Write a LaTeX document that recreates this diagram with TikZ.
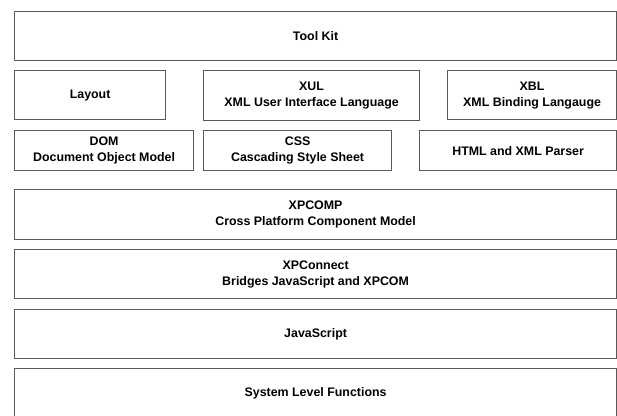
\documentclass[tikz,border=0pt]{standalone}
\usepackage{fontspec}
\setmainfont{Liberation Sans}
\usetikzlibrary{positioning}

\begin{document}
\begin{tikzpicture}[x=1pt, y=-1pt,
  block/.style={draw=black!65, line width=1.2pt, anchor=north west, inner sep=0pt,
    align=center, font=\fontsize{12.4}{16}\selectfont\bfseries}]

  \useasboundingbox (0,0) rectangle (617,415);

  % Top
  \node[block, minimum width=602pt, minimum height=49pt] (toolkit) at (14,11) {Tool Kit};

  % First row
  \node[block, minimum width=151pt, minimum height=49pt] (layout) at (14,70) {Layout};
  \node[block, minimum width=216pt, minimum height=50pt] (xul) at (203,70) {XUL\\XML User Interface Language};
  \node[block, minimum width=169pt, minimum height=49pt] (xbl) at (447,70) {XBL\\XML Binding Langauge};

  % Second row
  \node[block, minimum width=179pt, minimum height=40pt] (dom) at (14,130) {DOM\\Document Object Model};
  \node[block, minimum width=188pt, minimum height=40pt] (css) at (203,130) {CSS\\Cascading Style Sheet};
  \node[block, minimum width=197pt, minimum height=40pt] (parser) at (419,130) {HTML and XML Parser};

  % Layers
  \node[block, minimum width=602pt, minimum height=50pt] (xpcom) at (14,189) {XPCOMP\\Cross Platform Component Model};
  \node[block, minimum width=602pt, minimum height=49pt] (xpconnect) at (14,249) {XPConnect\\Bridges JavaScript and XPCOM};
  \node[block, minimum width=602pt, minimum height=49pt] (javascript) at (14,309) {JavaScript};
  \node[block, minimum width=602pt, minimum height=49pt] (system) at (14,368) {System Level Functions};

\end{tikzpicture}
\end{document}
